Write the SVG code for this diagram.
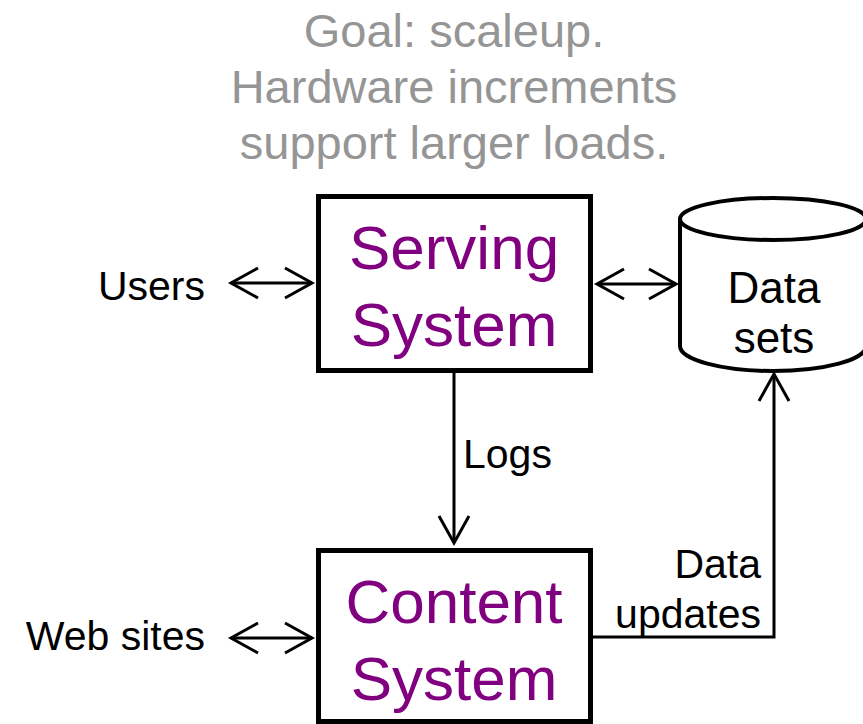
<svg xmlns="http://www.w3.org/2000/svg" width="863" height="724" viewBox="0 0 863 724">
  <style>
    .title { font-family: "Liberation Sans", Arial, sans-serif; font-size: 47px; fill: #959595; text-anchor: middle; }
    .big { font-family: "Liberation Sans", Arial, sans-serif; font-size: 62px; fill: #800080; text-anchor: middle; }
    .lbl { font-family: "Liberation Sans", Arial, sans-serif; font-size: 41px; fill: #000; }
    .box { fill: #fff; stroke: #000; stroke-width: 5; }
    .cyl { fill: #fff; stroke: #000; stroke-width: 4; }
    .conn { fill: none; stroke: #000; stroke-width: 3; }
  </style>
  <defs>
    <marker id="chev" markerUnits="userSpaceOnUse" markerWidth="40" markerHeight="40" viewBox="-32 -20 36 40" refX="0" refY="0" orient="auto-start-reverse">
      <path d="M-27,-15 L0,0 L-27,15" fill="none" stroke="#000" stroke-width="3"/>
    </marker>
  </defs>
  <rect width="863" height="724" fill="#fff"/>

  <g id="title">
    <text class="title" x="454" y="47">Goal: scaleup.</text>
    <text class="title" x="454" y="103">Hardware increments</text>
    <text class="title" x="454" y="159">support larger loads.</text>
  </g>

  <g id="connectors">
    <line class="conn" x1="231" y1="283" x2="312" y2="283" marker-start="url(#chev)" marker-end="url(#chev)"/>
    <line class="conn" x1="597" y1="284" x2="676" y2="284" marker-start="url(#chev)" marker-end="url(#chev)"/>
    <line class="conn" x1="231" y1="638" x2="312" y2="638" marker-start="url(#chev)" marker-end="url(#chev)"/>
    <line class="conn" x1="454" y1="373" x2="454" y2="543" marker-end="url(#chev)"/>
    <polyline class="conn" points="593,637 774,637 774,374" marker-end="url(#chev)"/>
    <text class="lbl" x="463" y="468">Logs</text>
    <text class="lbl" x="761" y="578" text-anchor="end">Data</text>
    <text class="lbl" x="761" y="628" text-anchor="end">updates</text>
  </g>

  <g id="users">
    <text class="lbl" x="205" y="300" text-anchor="end">Users</text>
  </g>
  <g id="websites">
    <text class="lbl" x="205" y="650" text-anchor="end">Web sites</text>
  </g>

  <g id="serving">
    <rect class="box" x="318.5" y="196.5" width="272" height="174"/>
    <text class="big" x="454" y="269">Serving</text>
    <text class="big" x="454" y="346">System</text>
  </g>

  <g id="content">
    <rect class="box" x="318.5" y="550.5" width="272" height="171"/>
    <text class="big" x="454" y="623">Content</text>
    <text class="big" x="454" y="700">System</text>
  </g>

  <g id="datasets">
    <path class="cyl" d="M680,219 L680,346 A93,25 0 0 0 866,346 L866,219"/>
    <ellipse class="cyl" cx="773" cy="219" rx="93" ry="21"/>
    <text class="lbl" x="774" y="303" text-anchor="middle" style="font-size:44px">Data</text>
    <text class="lbl" x="774" y="353" text-anchor="middle" style="font-size:44px">sets</text>
  </g>
</svg>
